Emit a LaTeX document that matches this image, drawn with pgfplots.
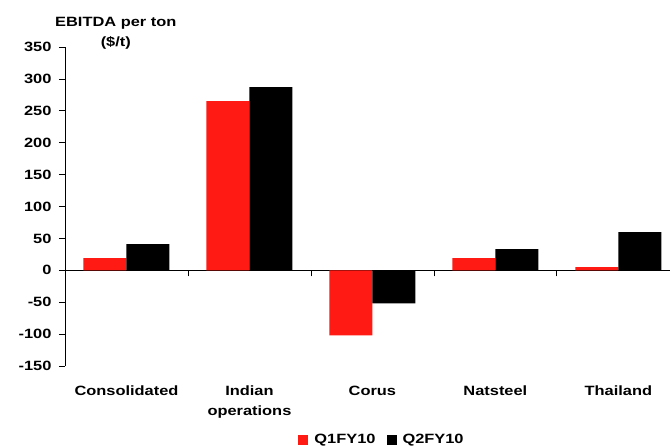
\documentclass[border=0pt]{standalone}
\usepackage{fontspec}
\setmainfont{Liberation Sans}[FakeStretch=1.22]
\usepackage{pgfplots}
\pgfplotsset{compat=1.18}
\definecolor{qred}{HTML}{FF1A14}
\begin{document}
\begin{tikzpicture}
\useasboundingbox (0,0) rectangle (670bp,446bp);
\begin{axis}[
  at={(65bp,80bp)}, anchor=south west,
  scale only axis, width=605bp, height=319bp,
  xmin=-0.5, xmax=4.42, ymin=-150, ymax=350,
  axis y line*=left, axis x line*=middle,
  axis line style={black, line width=0.8pt},
  ybar=0pt, bar width=43bp,
  tick align=outside,
  ytick={-150,-100,...,350},
  major tick length=6bp,
  xtick={0.5,1.5,2.5,3.5},
  xticklabels={},
  extra x ticks={0,1,2,3,4},
  extra x tick labels={Consolidated, Indian\\operations, Corus, Natsteel, Thailand},
  extra x tick style={major tick length=0pt,
    xticklabel style={align=center, anchor=north, yshift=-112bp}},
  tick style={black, line width=0.8pt},
  /pgf/number format/assume math mode=true,
  tick label style={font=\fontsize{13.5}{20}\selectfont\bfseries},
  yticklabel style={anchor=east, xshift=-4bp},
  title={EBITDA per ton\\(\$/t)},
  title style={at={(axis description cs:0.084,1.025)}, anchor=center, align=center,
    font=\fontsize{13.5}{20}\selectfont\bfseries},
  legend style={at={(axis description cs:0.524,-0.232)}, anchor=center, draw=none,
    font=\fontsize{13.5}{16}\selectfont\bfseries, inner sep=0pt,
    /tikz/every odd column/.append style={column sep=4bp},
    /tikz/every even column/.append style={column sep=9bp}},
  legend columns=2,
  legend image code/.code={\fill[#1] (0bp,-5bp) rectangle (10bp,5bp);},
]
\addplot[fill=qred, draw=none] coordinates {(0,19) (1,265) (2,-102) (3,19) (4,5)};
\addplot[fill=black, draw=none] coordinates {(0,41) (1,287) (2,-52) (3,33) (4,60)};
\legend{Q1FY10, Q2FY10}
\end{axis}
\end{tikzpicture}
\end{document}
